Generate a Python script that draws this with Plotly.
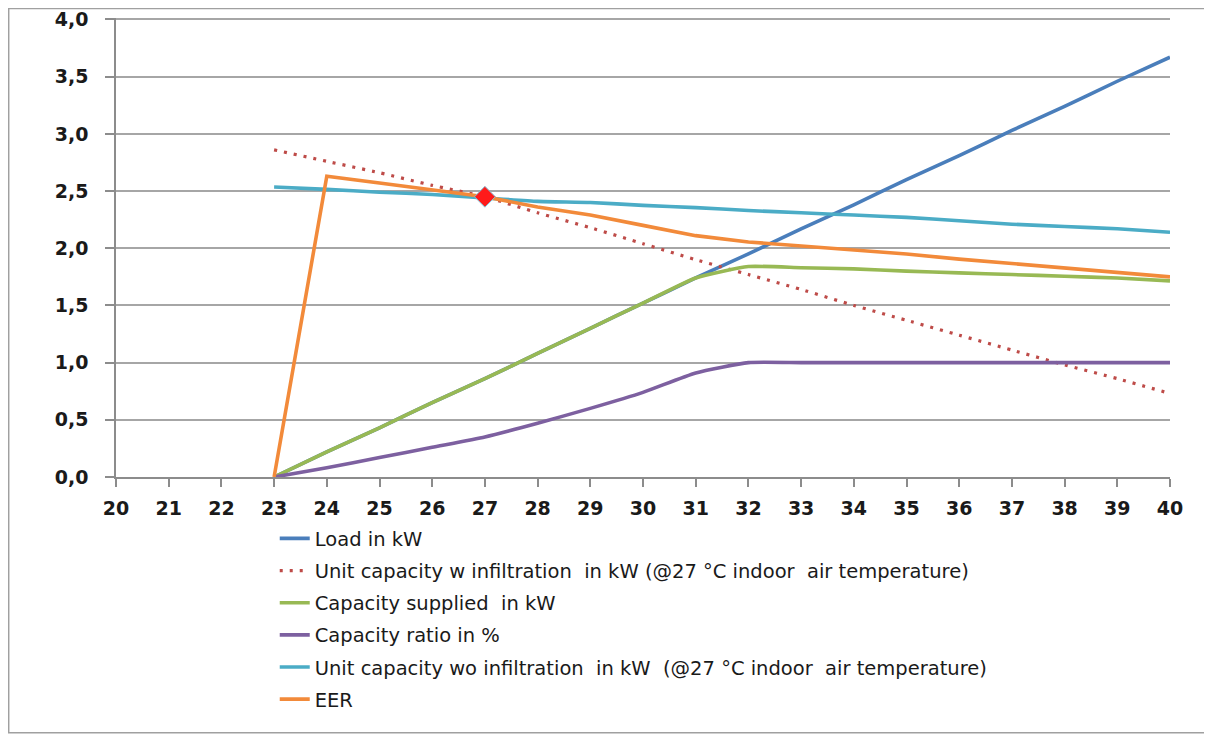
import plotly.graph_objects as go

# outdoor temperature, degC
temp = list(range(23, 41))

load_kw = [0.00, 0.22, 0.43, 0.65, 0.86, 1.08, 1.30, 1.52, 1.74, 1.95, 2.17, 2.38, 2.60, 2.81, 3.03, 3.24, 3.46, 3.67]
cap_w_infil = [2.86, 2.76, 2.66, 2.55, 2.45, 2.31, 2.18, 2.04, 1.90, 1.77, 1.64, 1.50, 1.37, 1.24, 1.11, 0.98, 0.86, 0.73]
cap_supplied = [0.00, 0.22, 0.43, 0.65, 0.86, 1.08, 1.30, 1.52, 1.74, 1.84, 1.83, 1.82, 1.80, 1.785, 1.77, 1.755, 1.74, 1.715]
cap_ratio = [0.00, 0.08, 0.17, 0.26, 0.35, 0.47, 0.60, 0.74, 0.91, 1.0, 1.0, 1.0, 1.0, 1.0, 1.0, 1.0, 1.0, 1.0]
cap_wo_infil = [2.535, 2.515, 2.49, 2.47, 2.44, 2.41, 2.40, 2.375, 2.355, 2.33, 2.31, 2.29, 2.27, 2.24, 2.21, 2.19, 2.17, 2.14]
eer = [0.00, 2.63, 2.57, 2.51, 2.45, 2.36, 2.29, 2.20, 2.11, 2.055, 2.02, 1.98, 1.95, 1.905, 1.865, 1.83, 1.79, 1.75]

design_t = [27]
design_val = [2.45]

names = [
    "Load in kW",
    "Unit capacity w infiltration  in kW (@27 °C indoor  air temperature)",
    "Capacity supplied  in kW",
    "Capacity ratio in %",
    "Unit capacity wo infiltration  in kW  (@27 °C indoor  air temperature)",
    "EER",
]
series = [load_kw, cap_w_infil, cap_supplied, cap_ratio, cap_wo_infil, eer]
colors = ["#4A7EBB", "#BE4B48", "#98B954", "#7D60A0", "#4BACC6", "#F28A3A"]

fig = go.Figure()
for i, (nm, ys, c) in enumerate(zip(names, series, colors)):
    dash = "3px,7px" if i == 1 else "solid"
    shape = "linear" if i == 5 else "spline"
    fig.add_trace(go.Scatter(
        x=temp, y=ys, name=nm.replace("  ", "\u00a0 "), mode="lines",
        line=dict(color=c, width=3.6 if i != 1 else 3.2, dash=dash, shape=shape, smoothing=0.5),
        legendgroup=str(i),
    ))

fig.add_trace(go.Scatter(
    x=design_t, y=design_val, mode="markers", showlegend=False,
    marker=dict(symbol="diamond", size=16, color="#FF1A1A", line=dict(color="#7FC4DA", width=1)),
))

# page body has an 8px margin, so the figure is a little smaller than the window
axis_col = "#8C8C8C"
tick_font = dict(family="DejaVu Sans", size=19, color="#1A1A1A", weight="bold")
fig.update_layout(
    template="none",
    width=1204, height=727,
    margin=dict(l=108, r=42, t=10, b=258, autoexpand=False),
    paper_bgcolor="white", plot_bgcolor="white",
    separators=", ",
    font=dict(family="DejaVu Sans", color="#1A1A1A"),
    showlegend=True,
    legend=dict(
        x=0.1506, y=-0.092, xanchor="left", yanchor="top",
        traceorder="grouped", tracegroupgap=3.8,
        font=dict(size=19.5, color="#1A1A1A"),
        bgcolor="rgba(0,0,0,0)",
    ),
    xaxis=dict(
        range=[20, 40], dtick=1, tick0=20, automargin=False,
        showgrid=False, zeroline=False,
        showline=True, linecolor=axis_col, linewidth=1.5,
        ticks="outside", ticklen=8, tickcolor=axis_col, tickwidth=1.5,
        tickfont=tick_font, ticklabelstandoff=5, ticklabeloverflow="allow",
    ),
    yaxis=dict(
        range=[0, 4.013], dtick=0.5, tick0=0, tickformat=".1f", automargin=False,
        showgrid=True, gridcolor="#A6A6A6", gridwidth=1.5,
        zeroline=False,
        showline=True, linecolor=axis_col, linewidth=1.5,
        ticks="outside", ticklen=9, tickcolor=axis_col, tickwidth=1.5,
        tickfont=tick_font, ticklabelstandoff=13, ticklabeloverflow="allow",
    ),
    shapes=[dict(
        type="rect", xref="paper", yref="paper",
        x0=-0.1018, x1=1.0351, y0=-0.557, y1=1.0206,
        line=dict(color="#A0A0A0", width=1.5), fillcolor="rgba(0,0,0,0)", layer="below",
    )],
)

fig.write_html("out.html")
